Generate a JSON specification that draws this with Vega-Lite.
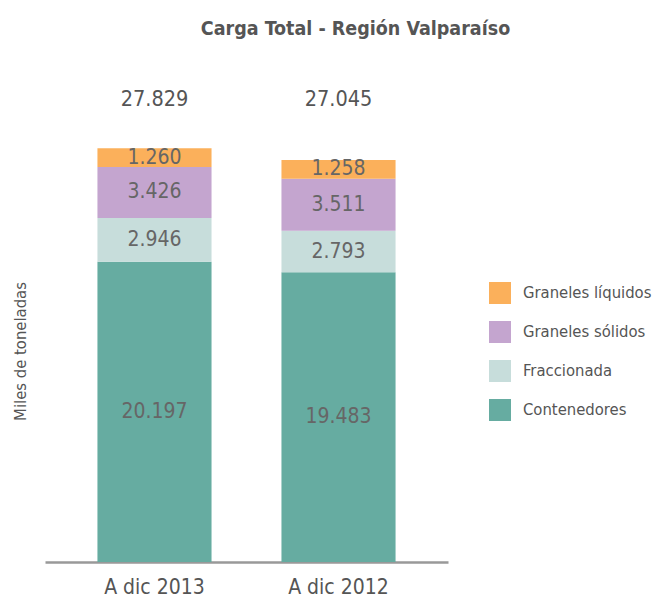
{
  "$schema": "https://vega.github.io/schema/vega-lite/v6.json",
  "autosize": "none",
  "width": 403,
  "height": 446,
  "padding": {"left": 45, "top": 116, "right": 207, "bottom": 39},
  "background": "white",
  "title": {
    "text": "Carga Total - Región Valparaíso",
    "anchor": "middle",
    "frame": "group",
    "dx": 109,
    "offset": 35,
    "baseline": "alphabetic",
    "font": "DejaVu Sans Condensed",
    "fontSize": 19.5,
    "fontWeight": "bold",
    "color": "#555555"
  },
  "data": {
    "values": [
      {"periodo": "A dic 2013", "tipo": "Contenedores", "orden": 1, "valor": 20197},
      {"periodo": "A dic 2013", "tipo": "Fraccionada", "orden": 2, "valor": 2946},
      {"periodo": "A dic 2013", "tipo": "Graneles sólidos", "orden": 3, "valor": 3426},
      {"periodo": "A dic 2013", "tipo": "Graneles líquidos", "orden": 4, "valor": 1260},
      {"periodo": "A dic 2012", "tipo": "Contenedores", "orden": 1, "valor": 19483},
      {"periodo": "A dic 2012", "tipo": "Fraccionada", "orden": 2, "valor": 2793},
      {"periodo": "A dic 2012", "tipo": "Graneles sólidos", "orden": 3, "valor": 3511},
      {"periodo": "A dic 2012", "tipo": "Graneles líquidos", "orden": 4, "valor": 1258}
    ]
  },
  "encoding": {
    "x": {
      "field": "periodo",
      "type": "nominal",
      "sort": ["A dic 2013", "A dic 2012"],
      "scale": {"paddingInner": 0.38, "paddingOuter": 0.285, "align": 0.5},
      "axis": {
        "title": null,
        "labelAngle": 0,
        "ticks": false,
        "domainColor": "#999999",
        "domainWidth": 2.5,
        "labelFont": "DejaVu Sans Condensed",
        "labelFontSize": 21,
        "labelColor": "#555555",
        "labelPadding": 14
      }
    }
  },
  "layer": [
    {
      "mark": {"type": "bar"},
      "encoding": {
        "y": {
          "field": "valor",
          "type": "quantitative",
          "stack": "zero",
          "scale": {"domain": [0, 30000], "nice": false},
          "axis": {
            "title": "Miles de toneladas",
            "labels": false,
            "ticks": false,
            "domain": false,
            "grid": false,
            "titleFont": "DejaVu Sans Condensed",
            "titleFontSize": 16.5,
            "titleFontWeight": "normal",
            "titleColor": "#555555",
            "titleX": -25,
            "titleY": 235,
            "titleAngle": -90,
            "titleAlign": "center",
            "titleBaseline": "middle"
          }
        },
        "color": {
          "field": "tipo",
          "type": "nominal",
          "scale": {
            "domain": ["Graneles líquidos", "Graneles sólidos", "Fraccionada", "Contenedores"],
            "range": ["#FBB05B", "#C4A5CF", "#C7DDDB", "#66ACA1"]
          },
          "legend": {
            "title": null,
            "orient": "none",
            "legendX": 444,
            "legendY": 166,
            "symbolType": "square",
            "symbolSize": 484,
            "symbolStrokeWidth": 0,
            "symbolOpacity": 1,
            "labelFont": "DejaVu Sans Condensed",
            "labelFontSize": 16.5,
            "labelColor": "#555555",
            "labelOffset": 12,
            "labelLimit": 200,
            "rowPadding": 17
          }
        },
        "order": {"field": "orden", "type": "quantitative"}
      }
    },
    {
      "mark": {"type": "text", "font": "DejaVu Sans Condensed", "fontSize": 21, "color": "#666666", "baseline": "middle"},
      "encoding": {
        "y": {"field": "valor", "type": "quantitative", "stack": "zero", "bandPosition": 0.5},
        "text": {"field": "valor", "type": "quantitative", "format": ",d"},
        "detail": {"field": "tipo", "type": "nominal"},
        "order": {"field": "orden", "type": "quantitative"}
      }
    },
    {
      "transform": [
        {"aggregate": [{"op": "sum", "field": "valor", "as": "total"}], "groupby": ["periodo"]}
      ],
      "mark": {"type": "text", "font": "DejaVu Sans Condensed", "fontSize": 21.5, "color": "#555555", "baseline": "middle", "dy": -16},
      "encoding": {
        "y": {"datum": 30000, "type": "quantitative"},
        "text": {"field": "total", "type": "quantitative", "format": ",d"}
      }
    }
  ],
  "config": {
    "view": {"stroke": null},
    "locale": {
      "number": {"decimal": ",", "thousands": ".", "grouping": [3], "currency": ["$", ""]}
    }
  }
}
